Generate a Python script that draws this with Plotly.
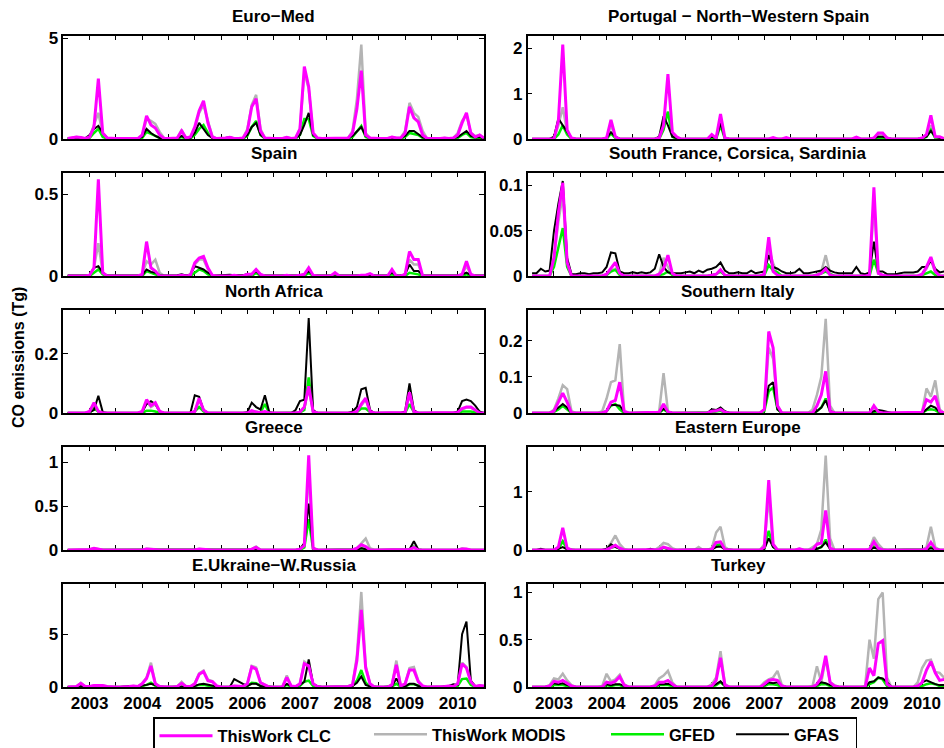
import plotly.graph_objects as go

# ---------------- data ----------------
months = list(range(1, 97))  # Jan 2003 .. Dec 2010
year_labels = ["2003", "2004", "2005", "2006", "2007", "2008", "2009", "2010"]
regions = ["Euro−Med", "Portugal − North−Western Spain", "Spain",
           "South France, Corsica, Sardinia", "North Africa", "Southern Italy",
           "Greece", "Eastern Europe", "E.Ukraine−W.Russia", "Turkey"]
series_names = ["ThisWork CLC", "ThisWork MODIS", "GFED", "GFAS"]

euromed_clc = [0.02,0.05,0.1,0.08,0.03,0.1,0.6,3.0,0.3,0.05,0.02,0.02,
               0.02,0.02,0.03,0.03,0.02,0.2,1.15,0.7,0.55,0.2,0.03,0.02,
               0.02,0.05,0.4,0.05,0.1,0.6,1.4,1.9,0.8,0.1,0.02,0.02,
               0.05,0.08,0.03,0.03,0.05,0.4,1.6,2.0,0.4,0.05,0.02,0.02,
               0.02,0.03,0.08,0.03,0.05,0.5,3.6,2.6,0.3,0.05,0.02,0.02,
               0.02,0.03,0.05,0.04,0.05,0.3,1.5,3.4,0.2,0.05,0.02,0.02,
               0.02,0.03,0.1,0.05,0.05,0.3,1.6,1.05,0.85,0.2,0.03,0.02,
               0.02,0.03,0.05,0.03,0.05,0.2,0.8,1.3,0.3,0.1,0.2,0.05]
euromed_modis = [0.02,0.05,0.1,0.08,0.03,0.1,0.7,1.3,0.25,0.05,0.02,0.02,
                 0.02,0.02,0.03,0.03,0.02,0.15,1.0,0.9,0.75,0.35,0.05,0.02,
                 0.02,0.05,0.45,0.05,0.1,0.5,1.3,1.7,0.9,0.15,0.02,0.02,
                 0.05,0.08,0.03,0.03,0.05,0.5,1.7,2.2,0.5,0.05,0.02,0.02,
                 0.02,0.03,0.08,0.03,0.05,0.5,3.3,2.5,0.3,0.05,0.02,0.02,
                 0.02,0.03,0.05,0.04,0.05,0.4,2.0,4.7,0.3,0.05,0.02,0.02,
                 0.02,0.03,0.1,0.05,0.05,0.4,1.8,1.3,1.1,0.4,0.03,0.02,
                 0.02,0.03,0.05,0.03,0.05,0.3,0.9,1.2,0.3,0.15,0.2,0.05]
euromed_gfed = [0.01,0.02,0.03,0.02,0.01,0.05,0.3,0.5,0.1,0.02,0.01,0.01,
                0.01,0.01,0.02,0.02,0.01,0.05,0.35,0.25,0.15,0.05,0.01,0.01,
                0.01,0.02,0.1,0.02,0.03,0.2,0.5,0.7,0.3,0.05,0.01,0.01,
                0.02,0.03,0.01,0.01,0.02,0.15,0.6,0.9,0.2,0.02,0.01,0.01,
                0.01,0.01,0.03,0.01,0.02,0.2,1.0,1.0,0.15,0.02,0.01,0.01,
                0.01,0.01,0.02,0.02,0.02,0.1,0.4,0.65,0.1,0.02,0.01,0.01,
                0.01,0.01,0.03,0.02,0.02,0.1,0.3,0.25,0.2,0.05,0.01,0.01,
                0.01,0.01,0.02,0.01,0.02,0.05,0.2,0.3,0.1,0.05,0.05,0.01]
euromed_gfas = [0.03,0.05,0.08,0.06,0.03,0.2,0.5,0.65,0.3,0.05,0.03,0.03,
                0.03,0.03,0.04,0.04,0.03,0.1,0.5,0.3,0.15,0.05,0.03,0.03,
                0.03,0.04,0.15,0.04,0.05,0.3,0.8,0.5,0.2,0.05,0.03,0.03,
                0.05,0.08,0.04,0.04,0.05,0.2,0.6,0.8,0.2,0.05,0.03,0.03,
                0.03,0.04,0.06,0.04,0.05,0.2,0.7,1.3,0.2,0.05,0.03,0.03,
                0.03,0.04,0.05,0.04,0.05,0.15,0.4,0.6,0.15,0.05,0.03,0.03,
                0.03,0.04,0.06,0.05,0.05,0.15,0.4,0.4,0.25,0.08,0.03,0.03,
                0.03,0.04,0.05,0.04,0.05,0.1,0.25,0.4,0.15,0.08,0.1,0.03]

portugal_clc = [0,0,0,0,0,0,0.4,2.08,0.2,0.02,0,0,
                0,0,0,0,0,0.02,0.42,0.05,0,0,0,0,
                0,0,0,0,0,0.02,0.3,1.43,0.15,0.05,0,0,
                0,0,0,0,0,0.1,0.02,0.55,0.02,0,0,0,
                0,0,0,0,0,0,0,0.03,0,0,0.03,0,
                0,0,0,0,0,0,0,0,0,0,0,0,
                0,0,0.04,0,0,0,0.02,0.13,0.13,0.02,0,0,
                0,0,0,0,0,0.02,0.1,0.52,0.05,0.05,0.01,0]
portugal_modis = [0,0,0,0,0,0,0.3,0.7,0.15,0.02,0,0,
                  0,0,0,0,0,0.02,0.3,0.05,0,0,0,0,
                  0,0,0,0,0,0.02,0.3,0.6,0.1,0.03,0,0,
                  0,0,0,0,0,0.05,0.02,0.4,0.02,0,0,0,
                  0,0,0,0,0,0,0,0.02,0,0,0.02,0,
                  0,0,0,0,0,0,0,0,0,0,0,0,
                  0,0,0.03,0,0,0,0.02,0.1,0.1,0.02,0,0,
                  0,0,0,0,0,0.02,0.08,0.3,0.05,0.03,0.01,0]
portugal_gfed = [0,0,0,0,0,0,0.1,0.3,0.1,0,0,0,
                 0,0,0,0,0,0,0.12,0.02,0,0,0,0,
                 0,0,0,0,0,0,0.2,0.6,0.05,0,0,0,
                 0,0,0,0,0,0.02,0,0.3,0,0,0,0,
                 0,0,0,0,0,0,0,0,0,0,0,0,
                 0,0,0,0,0,0,0,0,0,0,0,0,
                 0,0,0,0,0,0,0,0.03,0.03,0,0,0,
                 0,0,0,0,0,0,0.05,0.2,0.02,0,0,0]
portugal_gfas = [0,0,0,0,0,0.05,0.45,0.3,0.15,0.02,0,0,
                 0,0,0,0,0,0.02,0.15,0.05,0,0,0,0,
                 0,0,0,0,0,0.05,0.5,0.3,0.05,0.02,0,0,
                 0,0,0,0,0,0.05,0.02,0.35,0.02,0,0,0,
                 0,0,0,0,0,0,0,0,0,0,0,0,
                 0,0,0,0,0,0,0,0,0,0,0,0,
                 0,0,0,0,0,0,0.02,0.05,0.05,0.02,0,0,
                 0,0,0,0,0,0.02,0.05,0.18,0.05,0.02,0,0]

spain_clc = [0,0,0,0,0,0.005,0.05,0.59,0.02,0,0,0,
             0,0,0,0,0,0.01,0.21,0.05,0.03,0,0,0,
             0,0,0.005,0,0.005,0.08,0.11,0.12,0.05,0.005,0,0,
             0,0,0.005,0,0,0.01,0.01,0.04,0.01,0,0,0,
             0,0,0.005,0,0,0.005,0.01,0.05,0.005,0,0,0,
             0,0.02,0,0,0,0,0,0.005,0.005,0.015,0,0,
             0,0,0.04,0,0,0.01,0.15,0.1,0.1,0,0,0,
             0,0,0,0,0,0,0.01,0.09,0.01,0,0,0]
spain_modis = [0,0,0,0,0,0.005,0.05,0.2,0.02,0,0,0,
               0,0,0,0,0,0.01,0.09,0.07,0.1,0.02,0,0,
               0,0,0.005,0,0.005,0.07,0.1,0.1,0.04,0.005,0,0,
               0,0,0.005,0,0,0.01,0.01,0.03,0.01,0,0,0,
               0,0,0.005,0,0,0.005,0.01,0.04,0.005,0,0,0,
               0,0.015,0,0,0,0,0,0.005,0.005,0.01,0,0,
               0,0,0.03,0,0,0.01,0.1,0.07,0.07,0,0,0,
               0,0,0,0,0,0,0.01,0.06,0.01,0,0,0]
spain_gfed = [0,0,0,0,0,0,0.02,0.04,0.01,0,0,0,
              0,0,0,0,0,0,0.03,0.02,0.01,0,0,0,
              0,0,0,0,0,0.02,0.04,0.03,0.01,0,0,0,
              0,0,0,0,0,0,0,0.02,0,0,0,0,
              0,0,0,0,0,0,0,0.02,0,0,0,0,
              0,0.005,0,0,0,0,0,0,0,0.005,0,0,
              0,0,0.01,0,0,0,0.02,0.015,0.01,0,0,0,
              0,0,0,0,0,0,0,0.01,0,0,0,0]
spain_gfas = [0.003,0.005,0.003,0.003,0.003,0.005,0.05,0.06,0.02,0.003,0.003,0.003,
              0.003,0.003,0.003,0.003,0.003,0.005,0.04,0.025,0.02,0.005,0.003,0.003,
              0.003,0.005,0.01,0.003,0.01,0.06,0.05,0.04,0.02,0.005,0.003,0.005,
              0.005,0.008,0.005,0.003,0.005,0.01,0.01,0.03,0.005,0.003,0.003,0.003,
              0.003,0.003,0.005,0.003,0.003,0.005,0.01,0.03,0.005,0.003,0.003,0.003,
              0.003,0.01,0.003,0.003,0.003,0.003,0.005,0.005,0.005,0.008,0.003,0.003,
              0.003,0.003,0.02,0.003,0.003,0.01,0.07,0.03,0.03,0.005,0.003,0.003,
              0.003,0.003,0.003,0.003,0.003,0.005,0.01,0.02,0.005,0.003,0.003,0.003]

sfrance_clc = [0,0,0,0,0,0.02,0.07,0.103,0.015,0,0,0,
               0,0,0,0,0,0.002,0.008,0.015,0.003,0,0,0,
               0,0,0,0,0,0.002,0.008,0.023,0.003,0,0,0,
               0,0,0,0,0,0.001,0.002,0.007,0.001,0,0,0,
               0,0,0,0,0,0.002,0.043,0.005,0.001,0,0,0,
               0,0,0,0,0,0.001,0.003,0.008,0.001,0,0,0,
               0,0,0,0,0,0.001,0.098,0.003,0.001,0,0,0,
               0,0,0,0,0,0.002,0.01,0.021,0.005,0,0,0]
sfrance_modis = [0,0,0,0,0,0.02,0.06,0.09,0.015,0,0,0,
                 0,0,0,0,0,0.002,0.006,0.008,0.002,0,0,0,
                 0,0,0,0,0,0.002,0.02,0.01,0.002,0,0,0,
                 0,0,0,0,0,0.001,0.002,0.005,0.001,0,0,0,
                 0,0,0,0,0,0.002,0.03,0.014,0.002,0,0,0,
                 0,0,0,0,0,0.002,0.005,0.023,0.003,0,0,0,
                 0,0,0,0,0,0.001,0.08,0.003,0.001,0,0,0,
                 0,0,0,0,0,0.002,0.008,0.018,0.004,0,0,0]
sfrance_gfed = [0,0,0,0,0,0.01,0.03,0.053,0.01,0,0,0,
                0,0,0,0,0,0.001,0.005,0.007,0.001,0,0,0,
                0,0,0,0,0,0.001,0.002,0.005,0.001,0,0,0,
                0,0,0,0,0,0.001,0.002,0.005,0.001,0,0,0,
                0,0,0,0,0,0.001,0.012,0.006,0.004,0,0,0,
                0,0,0,0,0,0.001,0.003,0.005,0.002,0,0,0,
                0,0,0,0,0,0,0.018,0.003,0,0,0,0,
                0,0,0,0,0,0.001,0.003,0.005,0.001,0,0,0]
sfrance_gfas = [0.003,0.003,0.008,0.005,0.006,0.05,0.08,0.105,0.02,0.002,0.002,0.003,
                0.003,0.002,0.003,0.003,0.004,0.01,0.026,0.025,0.005,0.003,0.003,0.004,
                0.003,0.004,0.003,0.004,0.008,0.024,0.01,0.004,0.003,0.003,0.003,0.004,
                0.005,0.003,0.006,0.004,0.007,0.008,0.01,0.015,0.006,0.003,0.003,0.004,
                0.003,0.003,0.006,0.003,0.004,0.005,0.023,0.01,0.008,0.005,0.003,0.003,
                0.004,0.008,0.003,0.003,0.004,0.005,0.006,0.01,0.006,0.004,0.003,0.003,
                0.003,0.003,0.01,0.003,0.002,0.004,0.038,0.005,0.005,0.002,0.002,0.002,
                0.003,0.004,0.004,0.004,0.005,0.01,0.01,0.017,0.008,0.004,0.005,0.005]

nafrica_clc = [0,0,0,0,0,0.005,0.035,0.005,0,0,0,0,
               0,0,0,0,0,0.005,0.045,0.025,0.035,0.005,0,0,
               0,0,0,0,0,0.005,0.05,0.01,0,0,0,0,
               0,0,0,0,0,0,0.008,0.003,0.002,0.005,0,0,
               0,0,0,0,0,0.003,0.02,0.09,0.005,0,0,0,
               0,0,0,0,0,0,0.005,0.03,0.05,0.005,0,0,
               0,0,0,0,0,0.002,0.07,0.005,0,0,0,0,
               0,0,0,0,0,0.002,0.015,0.02,0.02,0.01,0,0]
nafrica_modis = [0,0,0,0,0,0.005,0.03,0.005,0,0,0,0,
                 0,0,0,0,0,0.005,0.04,0.02,0.03,0.005,0,0,
                 0,0,0,0,0,0.005,0.045,0.01,0,0,0,0,
                 0,0,0,0,0,0,0.006,0.003,0.002,0.004,0,0,
                 0,0,0,0,0,0.003,0.018,0.08,0.005,0,0,0,
                 0,0,0,0,0,0,0.005,0.025,0.045,0.005,0,0,
                 0,0,0,0,0,0.002,0.06,0.005,0,0,0,0,
                 0,0,0,0,0,0.002,0.012,0.018,0.018,0.008,0,0]
nafrica_gfed = [0,0,0,0,0,0,0.015,0.005,0,0,0,0,
                0,0,0,0,0,0,0.008,0.008,0.005,0,0,0,
                0,0,0,0,0,0.005,0.02,0.005,0,0,0,0,
                0,0,0,0,0,0,0.005,0.003,0.002,0.03,0,0,
                0,0,0,0,0,0.002,0.01,0.12,0.005,0,0,0,
                0,0,0,0,0,0,0.003,0.015,0.015,0.003,0,0,
                0,0,0,0,0,0,0.03,0.003,0,0,0,0,
                0,0,0,0,0,0,0.005,0.005,0.005,0.002,0,0]
nafrica_gfas = [0,0,0,0,0,0.003,0.01,0.058,0.003,0,0,0,
                0,0,0,0,0,0.003,0.03,0.04,0.03,0.005,0,0,
                0,0,0,0,0,0.06,0.055,0.01,0,0,0,0,
                0,0,0,0,0,0.003,0.035,0.02,0.012,0.06,0.003,0,
                0,0,0,0,0.01,0.04,0.045,0.32,0.01,0,0,0,
                0,0,0,0,0,0.005,0.02,0.08,0.085,0.01,0,0,
                0,0,0,0,0,0.005,0.1,0.01,0,0,0,0,
                0,0,0,0,0,0.005,0.04,0.045,0.04,0.025,0.005,0]

sitaly_clc = [0,0,0,0,0,0.005,0.03,0.055,0.03,0,0,0,
              0,0,0,0,0,0.005,0.03,0.035,0.085,0.005,0,0,
              0,0,0,0,0,0.002,0.025,0.003,0,0,0,0,
              0,0,0,0,0,0.005,0.006,0.01,0.002,0,0,0,
              0,0,0,0,0,0.01,0.225,0.18,0.02,0,0,0,
              0,0,0,0,0,0.02,0.05,0.115,0.005,0,0,0,
              0,0,0,0,0,0,0.02,0.003,0,0,0,0,
              0,0,0,0,0,0.002,0.037,0.03,0.047,0.005,0,0]
sitaly_modis = [0,0,0,0,0,0.01,0.04,0.077,0.066,0.005,0,0,
                0,0,0,0,0.005,0.04,0.085,0.09,0.19,0.005,0,0,
                0,0,0,0,0,0.005,0.11,0.005,0,0,0,0,
                0,0,0,0,0,0.004,0.005,0.008,0.002,0,0,0,
                0,0,0,0,0,0.01,0.18,0.15,0.02,0,0,0,
                0,0,0,0,0.01,0.05,0.1,0.26,0.02,0,0,0,
                0,0,0,0,0,0,0.015,0.003,0,0,0,0,
                0,0,0,0,0,0.003,0.068,0.045,0.09,0.01,0,0]
sitaly_gfed = [0,0,0,0,0,0.003,0.01,0.02,0.01,0,0,0,
               0,0,0,0,0,0.005,0.02,0.025,0.01,0,0,0,
               0,0,0,0,0,0,0.01,0.002,0,0,0,0,
               0,0,0,0,0,0.002,0.004,0.006,0.001,0,0,0,
               0,0,0,0,0,0.005,0.06,0.07,0.01,0,0,0,
               0,0,0,0,0,0.005,0.015,0.04,0.005,0,0,0,
               0,0,0,0,0,0,0.003,0.001,0,0,0,0,
               0,0,0,0,0,0,0.008,0.01,0.008,0,0,0]
sitaly_gfas = [0,0,0,0,0,0.005,0.015,0.025,0.015,0,0,0,
               0,0,0,0,0,0.005,0.022,0.022,0.02,0.003,0,0,
               0,0,0,0,0,0.002,0.012,0.003,0,0,0,0,
               0,0,0,0,0,0.01,0.008,0.015,0.005,0,0,0,
               0,0,0,0,0,0.01,0.075,0.085,0.01,0,0,0,
               0,0,0,0,0,0.005,0.015,0.035,0.005,0,0,0,
               0,0,0,0,0,0,0.005,0.008,0.006,0.002,0,0,
               0,0,0,0,0,0,0.01,0.02,0.015,0.002,0,0]

greece_clc = [0,0,0,0,0,0.005,0.02,0.01,0,0,0,0,
              0,0,0,0,0,0,0.01,0.005,0.005,0,0,0,
              0,0,0,0,0,0,0.01,0.005,0,0,0,0,
              0,0,0,0,0,0,0.01,0.03,0,0,0,0,
              0,0,0,0,0,0.01,0.05,1.08,0.02,0,0,0,
              0,0,0,0,0,0,0.02,0.06,0.04,0,0,0,
              0,0,0,0,0,0,0.005,0.03,0,0,0,0,
              0,0,0,0,0,0,0.01,0.01,0,0,0,0]
greece_modis = [0,0,0,0,0,0.005,0.02,0.01,0,0,0,0,
                0,0,0,0,0,0,0.015,0.015,0.01,0,0,0,
                0,0,0,0,0,0,0.01,0.005,0,0,0,0,
                0,0,0,0,0,0,0.01,0.04,0,0,0,0,
                0,0,0,0,0,0.01,0.05,0.9,0.02,0,0,0,
                0,0,0,0,0,0,0.02,0.07,0.13,0.02,0,0,
                0,0,0,0,0,0,0.005,0.02,0,0,0,0,
                0,0,0,0,0,0,0.02,0.01,0,0,0,0]
greece_gfed = [0,0,0,0,0,0,0.005,0.003,0,0,0,0,
               0,0,0,0,0,0,0.003,0.003,0,0,0,0,
               0,0,0,0,0,0,0,0,0,0,0,0,
               0,0,0,0,0,0,0.005,0.02,0,0,0,0,
               0,0,0,0,0,0,0.03,0.35,0.01,0,0,0,
               0,0,0,0,0,0,0.005,0.02,0.01,0,0,0,
               0,0,0,0,0,0,0,0.04,0,0,0,0,
               0,0,0,0,0,0,0.003,0.003,0,0,0,0]
greece_gfas = [0,0,0,0,0,0,0.005,0.005,0,0,0,0,
               0,0,0,0,0,0,0.005,0.003,0,0,0,0,
               0,0,0,0,0,0,0.003,0.002,0,0,0,0,
               0,0,0,0,0,0,0.005,0.01,0,0,0,0,
               0,0,0,0,0,0.01,0.08,0.53,0.02,0,0,0,
               0,0,0,0,0,0,0.005,0.02,0.01,0,0,0,
               0,0,0,0,0,0,0.005,0.1,0.005,0,0,0,
               0,0,0,0,0,0,0.003,0.003,0,0,0,0]

eeurope_clc = [0,0,0,0,0,0,0.05,0.38,0.03,0,0,0,
               0,0,0,0,0,0.005,0.04,0.08,0.03,0,0,0,
               0,0,0,0,0,0.01,0.05,0.03,0.005,0,0,0,
               0,0,0.01,0,0,0.01,0.13,0.14,0.01,0,0,0,
               0,0,0,0,0,0.05,1.2,0.1,0,0,0,0,
               0,0.02,0,0,0,0.1,0.12,0.68,0.03,0,0,0,
               0,0,0,0,0,0.01,0.14,0.03,0,0,0,0,
               0,0,0,0,0,0,0.02,0.13,0.02,0,0,0]
eeurope_modis = [0,0,0,0,0,0,0.04,0.15,0.03,0,0,0,
                 0,0,0,0,0,0.02,0.12,0.25,0.1,0.02,0,0,
                 0,0,0,0,0,0.05,0.12,0.1,0.03,0,0,0,
                 0,0,0.05,0,0,0.03,0.3,0.4,0.05,0,0,0,
                 0,0,0,0,0,0.1,0.9,0.1,0,0,0,0,
                 0,0.02,0,0,0.05,0.1,0.35,1.62,0.2,0,0,0,
                 0,0,0,0,0,0.02,0.22,0.1,0.02,0,0,0,
                 0,0,0,0,0,0,0.05,0.4,0.05,0,0,0]
eeurope_gfed = [0,0,0,0,0,0,0.02,0.15,0.02,0,0,0,
                0,0,0,0,0,0,0.04,0.06,0.02,0,0,0,
                0,0,0,0,0,0,0.04,0.02,0,0,0,0,
                0,0,0,0,0,0.01,0.08,0.1,0.01,0,0,0,
                0,0,0,0,0,0.02,0.33,0.05,0,0,0,0,
                0,0,0,0,0,0.02,0.05,0.18,0.02,0,0,0,
                0,0,0,0,0,0,0.06,0.02,0,0,0,0,
                0,0,0,0,0,0,0.01,0.05,0.01,0,0,0]
eeurope_gfas = [0,0,0.02,0,0,0,0.02,0.05,0.01,0,0,0,
                0,0,0,0,0,0.02,0.1,0.05,0.02,0,0,0,
                0,0,0,0.02,0,0,0.04,0.02,0,0,0,0,
                0,0,0.01,0,0,0.01,0.05,0.06,0.01,0,0,0,
                0,0,0,0,0,0.02,0.2,0.05,0,0,0,0,
                0,0,0,0,0,0.02,0.05,0.13,0.02,0,0,0,
                0,0,0,0,0,0,0.04,0.02,0,0,0,0,
                0,0,0,0,0,0,0.01,0.03,0.01,0,0,0]

ukraine_clc = [0,0.02,0.05,0.35,0.05,0.05,0.15,0.15,0.15,0.05,0,0,
               0,0,0.05,0.1,0.05,0.3,0.8,2.0,0.3,0.05,0,0,
               0,0.05,0.35,0.05,0.05,0.3,1.2,1.45,0.6,0.5,0.1,0,
               0,0,0.1,0.05,0.05,0.3,1.9,1.7,0.4,0.2,0,0,
               0,0,0.9,0.1,0.05,0.3,2.2,2.0,0.3,0.05,0,0,
               0,0,0.02,0.05,0.05,0.2,2.5,7.3,1.8,0.3,0,0,
               0,0,0.2,2.1,0.1,0.3,1.6,1.6,0.5,0.1,0,0,
               0,0,0.05,0.1,0.05,0.3,2.2,1.8,0.5,0.05,0.15,0.1]
ukraine_modis = [0,0.02,0.05,0.4,0.05,0.05,0.15,0.15,0.15,0.05,0,0,
                 0,0,0.05,0.1,0.05,0.35,0.9,2.3,0.35,0.05,0,0,
                 0,0.05,0.5,0.05,0.05,0.35,1.3,1.55,0.7,0.55,0.1,0,
                 0,0,0.1,0.05,0.05,0.3,2.0,1.85,0.45,0.2,0,0,
                 0,0,1.1,0.1,0.05,0.3,2.4,2.1,0.3,0.05,0,0,
                 0,0,0.02,0.05,0.05,0.25,3.0,9.0,2.0,0.3,0,0,
                 0,0,0.25,2.5,0.1,0.3,1.8,1.9,0.6,0.1,0,0,
                 0,0,0.05,0.1,0.05,0.3,2.3,1.9,0.5,0.05,0.15,0.1]
ukraine_gfed = [0,0,0.01,0.05,0.01,0.01,0.03,0.03,0.03,0.01,0,0,
                0,0,0.01,0.05,0.02,0.1,0.2,0.4,0.1,0.02,0,0,
                0,0,0.05,0.02,0.02,0.1,0.2,0.2,0.1,0.05,0,0,
                0,0,0.05,0.02,0.02,0.1,0.4,0.35,0.1,0.05,0,0,
                0,0,0.2,0.05,0.02,0.1,0.5,0.6,0.1,0.02,0,0,
                0,0,0.01,0.02,0.02,0.1,0.6,1.6,0.4,0.05,0,0,
                0,0,0.05,0.3,0.02,0.05,0.25,0.25,0.1,0.02,0,0,
                0,0,0.02,0.05,0.02,0.1,0.75,0.8,0.2,0.02,0.02,0]
ukraine_gfas = [0,0,0.02,0.1,0.02,0.02,0.05,0.05,0.05,0.02,0,0,
                0,0.05,0.1,0.1,0.05,0.1,0.2,0.3,0.15,0.05,0,0,
                0,0,0.05,0.05,0.05,0.1,0.25,0.3,0.2,0.1,0.05,0,
                0,0,0.75,0.5,0.3,0.1,0.3,0.3,0.1,0.05,0,0,
                0,0,0.3,0.1,0.05,0.2,0.5,2.6,0.3,0.05,0,0,
                0,0,0.02,0.05,0.05,0.1,0.4,1.0,0.2,0.05,0,0,
                0,0,0.05,0.8,0.05,0.05,0.3,0.3,0.1,0.02,0,0,
                0,0,0.05,0.1,0.25,0.2,5.0,6.2,0.6,0.05,0.05,0.02]

turkey_clc = [0,0,0,0,0.01,0.06,0.05,0.07,0.04,0.01,0,0,
              0,0,0,0,0,0.05,0.04,0.06,0.11,0.02,0,0,
              0,0,0,0,0.01,0.05,0.05,0.07,0.03,0,0,0,
              0,0,0,0,0,0.01,0.07,0.31,0.02,0,0,0,
              0,0,0,0,0,0.03,0.07,0.08,0.07,0.01,0,0,
              0,0,0,0,0,0.03,0.1,0.33,0.05,0.01,0,0,
              0,0,0,0,0,0.2,0.12,0.46,0.49,0.03,0,0,
              0,0,0,0,0.01,0.05,0.18,0.27,0.15,0.07,0.08,0.08]
turkey_modis = [0,0,0,0,0.02,0.09,0.08,0.14,0.07,0.02,0,0,
                0,0,0,0,0.01,0.14,0.06,0.08,0.13,0.03,0,0,
                0,0,0,0,0.02,0.09,0.12,0.17,0.05,0,0,0,
                0,0,0,0,0,0.03,0.1,0.38,0.03,0,0,0,
                0,0,0,0,0,0.05,0.08,0.1,0.17,0.02,0,0,
                0,0,0,0,0.01,0.22,0.05,0.3,0.05,0.02,0,0,
                0,0,0,0,0.01,0.5,0.3,0.93,1.0,0.1,0,0,
                0,0,0,0,0.05,0.2,0.28,0.29,0.16,0.15,0.1,0.1]
turkey_gfed = [0,0,0,0,0,0.02,0.02,0.02,0.01,0,0,0,
               0,0,0,0,0,0.02,0.01,0.02,0.02,0,0,0,
               0,0,0,0,0,0.02,0.02,0.02,0.01,0,0,0,
               0,0,0,0,0,0,0.02,0.05,0.01,0,0,0,
               0,0,0,0,0,0.01,0.03,0.03,0.02,0,0,0,
               0,0,0,0,0,0.01,0.03,0.03,0.01,0,0,0,
               0,0,0,0,0,0.03,0.05,0.1,0.08,0.01,0,0,
               0,0,0,0,0,0.01,0.03,0.04,0.03,0.01,0.01,0]
turkey_gfas = [0,0,0,0,0.01,0.04,0.03,0.04,0.02,0.01,0,0,
               0,0,0,0,0,0.03,0.02,0.03,0.03,0.01,0,0,
               0,0,0,0,0.01,0.03,0.03,0.035,0.02,0,0,0,
               0,0,0,0,0,0.01,0.03,0.06,0.01,0,0,0,
               0,0,0,0,0,0.02,0.05,0.04,0.05,0.01,0,0,
               0,0,0,0,0,0.02,0.05,0.04,0.02,0.01,0,0,
               0,0,0,0,0,0.05,0.06,0.1,0.09,0.05,0,0,
               0,0,0,0,0.01,0.05,0.07,0.05,0.03,0.02,0.02,0.01]

panel_data = [
    (euromed_clc, euromed_modis, euromed_gfed, euromed_gfas),
    (portugal_clc, portugal_modis, portugal_gfed, portugal_gfas),
    (spain_clc, spain_modis, spain_gfed, spain_gfas),
    (sfrance_clc, sfrance_modis, sfrance_gfed, sfrance_gfas),
    (nafrica_clc, nafrica_modis, nafrica_gfed, nafrica_gfas),
    (sitaly_clc, sitaly_modis, sitaly_gfed, sitaly_gfas),
    (greece_clc, greece_modis, greece_gfed, greece_gfas),
    (eeurope_clc, eeurope_modis, eeurope_gfed, eeurope_gfas),
    (ukraine_clc, ukraine_modis, ukraine_gfed, ukraine_gfas),
    (turkey_clc, turkey_modis, turkey_gfed, turkey_gfas),
]

# ---------------- styling / layout ----------------
W, H = 944, 748
FONT = "Liberation Sans, Arial, Helvetica, sans-serif"
y_ranges = [5.15, 2.28, 0.632, 0.1144, 0.349, 0.2857, 1.18, 1.777, 9.8, 1.095]
y_dticks = [5, 1, 0.5, 0.05, 0.2, 0.1, 0.5, 1, 5, 0.5]
colors = ["#FF00FF", "#B4B4B4", "#00EE00", "#000000"]
widths = [3, 2.5, 2.5, 2]
legend_ids = ["legend", "legend2", "legend3", "legend4"]
draw_order = [1, 2, 3, 0]  # MODIS, GFED, GFAS, CLC on top


def fx(px):  # window pixel -> paper x
    return px / W


def fy(py):  # window pixel -> paper y
    return 1 - py / H


col_px = [(63.3, 484.0), (527.7, 948.4)]
month_px = (484.0 - 63.3) / 96.0
row_top_px = [35.5, 172.5, 309.5, 446.5, 583.5]
row_h_px = 103.5

fig = go.Figure()
layout = dict(
    width=W, height=H, margin=dict(l=0, r=0, t=0, b=0, autoexpand=False),
    paper_bgcolor="white", plot_bgcolor="white",
    font=dict(family=FONT, size=17, color="black", weight="bold"),
    annotations=[], showlegend=True,
)

tickvals = list(range(0, 97, 6))
ticktext = []
for k in range(len(tickvals)):
    ticktext.append(year_labels[k // 2] if (k % 2 == 1 and k // 2 < len(year_labels)) else "")

for i in range(10):
    r, c = i // 2, i % 2
    ax = "" if i == 0 else str(i + 1)
    x0, x1 = col_px[c]
    x1v = min(x1, float(W))
    xmax = (x1v - x0) / month_px
    top = row_top_px[r]
    bot = top + row_h_px
    layout["xaxis" + ax] = dict(
        domain=[fx(x0), min(1.0, fx(x1v))], range=[0, xmax], anchor="y" + ax,
        tickmode="array", tickvals=tickvals, ticktext=ticktext,
        showticklabels=(r == 4), ticks="inside", ticklen=5, tickwidth=1,
        tickcolor="black", mirror="allticks", showline=True, linecolor="black",
        linewidth=1.5, showgrid=False, zeroline=False, layer="below traces",
        automargin=False,
        tickfont=dict(size=17, family=FONT, weight="bold"),
    )
    layout["yaxis" + ax] = dict(
        domain=[fy(bot), fy(top)], range=[0, y_ranges[i]], anchor="x" + ax,
        dtick=y_dticks[i], tick0=0, ticks="inside", ticklen=5, tickwidth=1,
        tickcolor="black", mirror=("allticks" if c == 0 else False), showline=True,
        linecolor="black", linewidth=1.5, showgrid=False, zeroline=False,
        layer="below traces", automargin=False,
        tickfont=dict(size=17, family=FONT, weight="bold"),
    )
    cx = (x0 + x1) / 2.0
    layout["annotations"].append(dict(
        text=regions[i], xref="paper", yref="paper", x=fx(cx), y=fy(top - 18.5),
        xanchor="center", yanchor="middle", showarrow=False,
        font=dict(size=17, family=FONT, color="black", weight="bold"),
    ))
    for s in draw_order:
        fig.add_trace(go.Scatter(
            x=months, y=panel_data[i][s], mode="lines", name=series_names[s],
            line=dict(color=colors[s], width=widths[s]),
            xaxis="x" + ax, yaxis="y" + ax,
            showlegend=(i == 0), legend=legend_ids[s], hoverinfo="skip",
        ))

layout["annotations"].append(dict(
    text="CO emissions (Tg)", xref="paper", yref="paper", x=fx(18), y=fy(358),
    xanchor="center", yanchor="middle", textangle=-90, showarrow=False,
    font=dict(size=16, family=FONT, color="black", weight="bold"),
))

leg_font = dict(size=16.5, family=FONT, color="black", weight="bold")
leg_y = fy(717)
layout["legend"] = dict(x=fx(153), y=leg_y, xanchor="left", yanchor="top",
                        orientation="h", bgcolor="white", bordercolor="black",
                        borderwidth=1.5, font=leg_font, entrywidth=633,
                        entrywidthmode="pixels", itemwidth=53)
for k, xp in zip(["legend2", "legend3", "legend4"], [369, 606, 731]):
    layout[k] = dict(x=fx(xp), y=leg_y, xanchor="left", yanchor="top",
                     orientation="h", bgcolor="rgba(0,0,0,0)", borderwidth=0,
                     font=leg_font, itemwidth=53)

fig.update_layout(**layout)
fig.write_html(
    "out.html",
    config={"displayModeBar": False},
    post_script="document.body.style.margin='0';document.body.style.overflow='hidden';",
)
